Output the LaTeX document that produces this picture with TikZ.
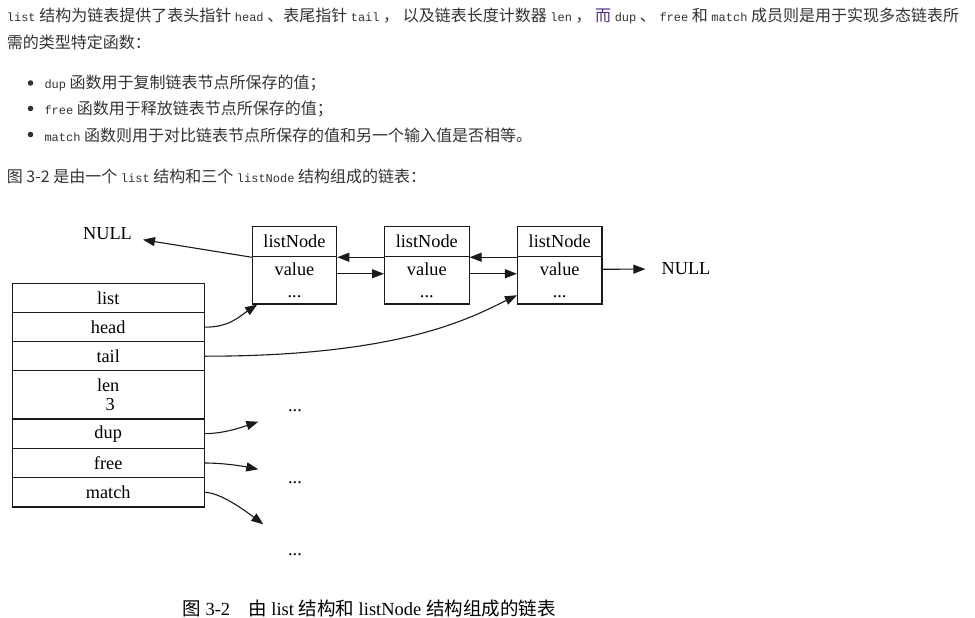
\documentclass[tikz,border=0pt]{standalone}
\usepackage{fontspec}
\setmainfont{Liberation Serif}
\setmonofont{Liberation Mono}
\newfontfamily\cjk{Noto Sans CJK SC}
\usetikzlibrary{arrows.meta,calc}
\definecolor{txt}{HTML}{333333}
\definecolor{erc}{RGB}{80,50,130}
\definecolor{gvline}{HTML}{1A1A1A}
\newcommand{\mc}[1]{{\fontsize{12}{14}\ttfamily #1}}
\begin{document}
\begin{tikzpicture}[x=1pt,y=-1pt,
  para/.style={anchor=base west, inner sep=0pt, text=txt, font=\cjk\fontsize{16}{20}\selectfont},
  gv/.style={inner sep=0pt, font=\fontsize{18.3}{21}\selectfont},
  box/.style={draw=gvline, line width=1.1pt, minimum width=84.5, inner sep=0pt, align=center, font=\fontsize{18.3}{21.5}\selectfont},
  row/.style={draw=gvline, line width=1.1pt, minimum width=191.7, inner sep=0pt, align=center, font=\fontsize{18.3}{18.5}\selectfont},
  arr/.style={draw=gvline, line width=1.1pt, -{Triangle[length=12pt,width=9pt]}},
  captext/.style={inner sep=0pt, font=\fontsize{18.5}{20}\selectfont},
]
\useasboundingbox (0,0) rectangle (975,618);

% ---- paragraph text ----
\node[para] (l1) at (6.7,22) {\mc{list} 结构为链表提供了表头指针 \mc{head} 、表尾指针 \mc{tail} ， 以及链表长度计数器 \mc{len} ， {\color{erc}而} \mc{dup} 、 \mc{free} 和 \mc{match} 成员则是用于实现多态链表所};
\node[para] (l2) at (6.7,48.5) {需的类型特定函数：};
\fill[txt] (30.5,83) circle (2.8);
\fill[txt] (30.5,108.5) circle (2.8);
\fill[txt] (30.5,134.5) circle (2.8);
\node[para] (b1) at (44.3,88.7) {\mc{dup} 函数用于复制链表节点所保存的值；};
\node[para] (b2) at (44.3,114.3) {\mc{free} 函数用于释放链表节点所保存的值；};
\node[para] (b3) at (44.3,141) {\mc{match} 函数则用于对比链表节点所保存的值和另一个输入值是否相等。};
\node[para] (l3) at (6.7,182.7) {图 3-2 是由一个 \mc{list} 结构和三个 \mc{listNode} 结构组成的链表：};

% ---- listNodes ----
\node[box, minimum height=30] (n1h) at (294.5,241.7) {listNode};
\node[box, minimum height=47.3] (n1v) at (294.5,280.35) {value\\...};
\node[box, minimum height=30] (n2h) at (426.8,241.7) {listNode};
\node[box, minimum height=47.3] (n2v) at (426.8,280.35) {value\\...};
\node[box, minimum height=30] (n3h) at (559.7,241.7) {listNode};
\node[box, minimum height=47.3] (n3v) at (559.7,280.35) {value\\...};

\node[gv] (nL) at (107.5,234) {NULL};
\node[gv] (nR) at (686,269) {NULL};

% ---- list struct ----
\node[row, minimum height=29.4] (rlist) at (108.2,298) {list};
\node[row, minimum height=29] (rhead) at (108.2,327.2) {head};
\node[row, minimum height=29] (rtail) at (108.2,356.2) {tail};
\node[row, minimum height=48.3] (rlen) at (108.2,394.85) {len\\\hspace{4pt}3};
\node[row, minimum height=29.3] (rdup) at (108.2,433.65) {dup};
\node[row, minimum height=29.4] (rfree) at (108.2,463) {free};
\node[row, minimum height=29.3] (rmatch) at (108.2,492.35) {match};

\node[gv, anchor=base] (o1) at (295,411) {...};
\node[gv, anchor=base] (o2) at (295,483) {...};
\node[gv, anchor=base] (o3) at (295,555) {...};

\coordinate (eDup) at (258.3,421.7);
\coordinate (eFree) at (258.3,469.3);
\coordinate (eMatch) at (263.3,524.3);

% ---- connectors ----
\draw[arr, shorten >=11pt] (n1h.south west) -- (nL);
\draw[arr] (n2h.south west) -- (n1h.south east);
\draw[arr] (n3h.south west) -- (n2h.south east);
\draw[arr] ($(n1h.south east)+(0,16.5)$) -- ($(n2h.south west)+(0,16.5)$);
\draw[arr] ($(n2h.south east)+(0,16.5)$) -- ($(n3h.south west)+(0,16.5)$);
\draw[arr, shorten >=16pt] ($(n3h.south east)+(0,12)$) -- (nR);

\draw[arr] (rhead.east) .. controls +(25,0) and +(-18,12) .. ($(n1v.south west)+(5.5,0)$);
\draw[arr] (rtail.east) .. controls +(196,0) and +(-47,23) .. ($(n3h.south west)+(0,38)$);
\draw[arr] (rdup.east) .. controls +(20,0) and +(-15,5) .. (eDup);
\draw[arr] (rfree.east) .. controls +(20,0) and +(-15,-3) .. (eFree);
\draw[arr] (rmatch.east) .. controls +(15,0) and +(-20,-15) .. (eMatch);

% ---- caption ----
\node[captext] (caption) at (369,608) {{\cjk 图} 3-2\hspace{18pt}{\cjk 由} list {\cjk 结构和} listNode {\cjk 结构组成的链表}};
\end{tikzpicture}
\end{document}
